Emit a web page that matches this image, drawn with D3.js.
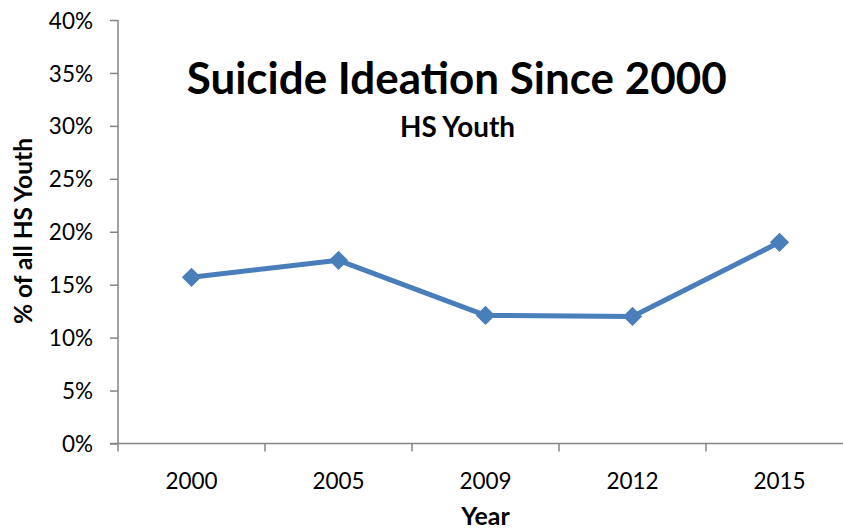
<!DOCTYPE html>
<html>
<head>
<meta charset="utf-8">
<script src="https://cdn.jsdelivr.net/npm/d3@7"></script>
<style>
  html, body { margin: 0; padding: 0; background: #fff; }
  svg { display: block; font-family: Lato, "Open Sans", sans-serif; }
</style>
</head>
<body>
<svg id="chart" width="843" height="529"></svg>
<script>
// Survey years and share of high-school youth reporting suicide ideation (%)
const years = ["2000", "2005", "2009", "2012", "2015"];
const ideationPct = [15.7, 17.3, 12.1, 12.0, 19.0];
const yTicks = [0, 5, 10, 15, 20, 25, 30, 35, 40];

const titleText = "Suicide Ideation Since 2000";
const subtitleText = "HS Youth";
const xTitle = "Year";
const yTitle = "% of all HS Youth";

const svg = d3.select("#chart");
const plot = { left: 118, right: 853, top: 20, bottom: 443.5 };
const axisColor = "#868686";
const lineColor = "#4A7EBB";

const x = d3.scaleBand().domain(years).range([plot.left, plot.right]);
const y = d3.scaleLinear().domain([0, 40]).range([plot.bottom, plot.top]);

// Fit a text element's rendered width to a target width by scaling its font size
function fitWidth(sel, target) {
  const node = sel.node();
  const size = parseFloat(sel.attr("font-size"));
  const w = node.getComputedTextLength();
  if (w > 0) sel.attr("font-size", (size * target / w).toFixed(2));
  return sel;
}

// Y axis
const yAxis = svg.append("g")
  .attr("transform", `translate(${plot.left},0)`)
  .call(d3.axisLeft(y).tickValues(yTicks).tickFormat(d => d + "%").tickSize(8).tickPadding(17));
yAxis.select(".domain").attr("stroke", axisColor).attr("stroke-width", 1.5)
  .attr("d", `M0,${plot.top}V${plot.bottom}`);
yAxis.selectAll(".tick line").attr("stroke", axisColor).attr("stroke-width", 1.5);
yAxis.selectAll(".tick text")
  .attr("font-family", "Lato, sans-serif").attr("font-size", 22.5).attr("fill", "#000")
  .attr("dy", "0.36em");

// X axis with ticks at category boundaries
const bounds = years.map(d => x(d)).concat([plot.right]);
const xAxis = svg.append("g").attr("transform", `translate(0,${plot.bottom})`);
xAxis.append("line")
  .attr("x1", plot.left - 8).attr("x2", plot.right)
  .attr("stroke", axisColor).attr("stroke-width", 1.5);
xAxis.selectAll("line.bound").data(bounds).join("line")
  .attr("class", "bound")
  .attr("x1", d => d).attr("x2", d => d).attr("y1", 0).attr("y2", 8)
  .attr("stroke", axisColor).attr("stroke-width", 1.5);
xAxis.selectAll("text").data(years).join("text")
  .attr("x", d => x(d) + x.bandwidth() / 2)
  .attr("y", 45)
  .attr("text-anchor", "middle")
  .attr("font-size", 22.5).attr("fill", "#000")
  .text(d => d);

// Series line and diamond markers
const pts = years.map((yr, i) => [x(yr) + x.bandwidth() / 2, y(ideationPct[i])]);
svg.append("path")
  .attr("d", d3.line()(pts))
  .attr("fill", "none")
  .attr("stroke", lineColor)
  .attr("stroke-width", 5)
  .attr("stroke-linejoin", "round");
const diamond = d3.symbol().type(d3.symbolSquare).size(185);
svg.selectAll("path.marker").data(pts).join("path")
  .attr("class", "marker")
  .attr("d", diamond)
  .attr("transform", d => `translate(${d[0]},${d[1]}) rotate(45)`)
  .attr("fill", lineColor);

// Titles
const title = svg.append("text")
  .attr("x", 456.7).attr("y", 94)
  .attr("text-anchor", "middle")
  .attr("font-weight", 700).attr("font-size", 42).attr("fill", "#000")
  .text(titleText);
fitWidth(title, 540);

const subtitle = svg.append("text")
  .attr("x", 457.5).attr("y", 137.3)
  .attr("text-anchor", "middle")
  .attr("font-weight", 700).attr("font-size", 25).attr("fill", "#000")
  .text(subtitleText);
fitWidth(subtitle, 115);

const xt = svg.append("text")
  .attr("x", (plot.left + plot.right) / 2).attr("y", 525)
  .attr("text-anchor", "middle")
  .attr("font-weight", 700).attr("font-size", 22).attr("fill", "#000")
  .text(xTitle);
fitWidth(xt, 48.5);

const yt = svg.append("text")
  .attr("transform", "translate(31.7,231) rotate(-90)")
  .attr("text-anchor", "middle")
  .attr("font-weight", 700).attr("font-size", 22).attr("fill", "#000")
  .text(yTitle);
fitWidth(yt, 186);
</script>
</body>
</html>
